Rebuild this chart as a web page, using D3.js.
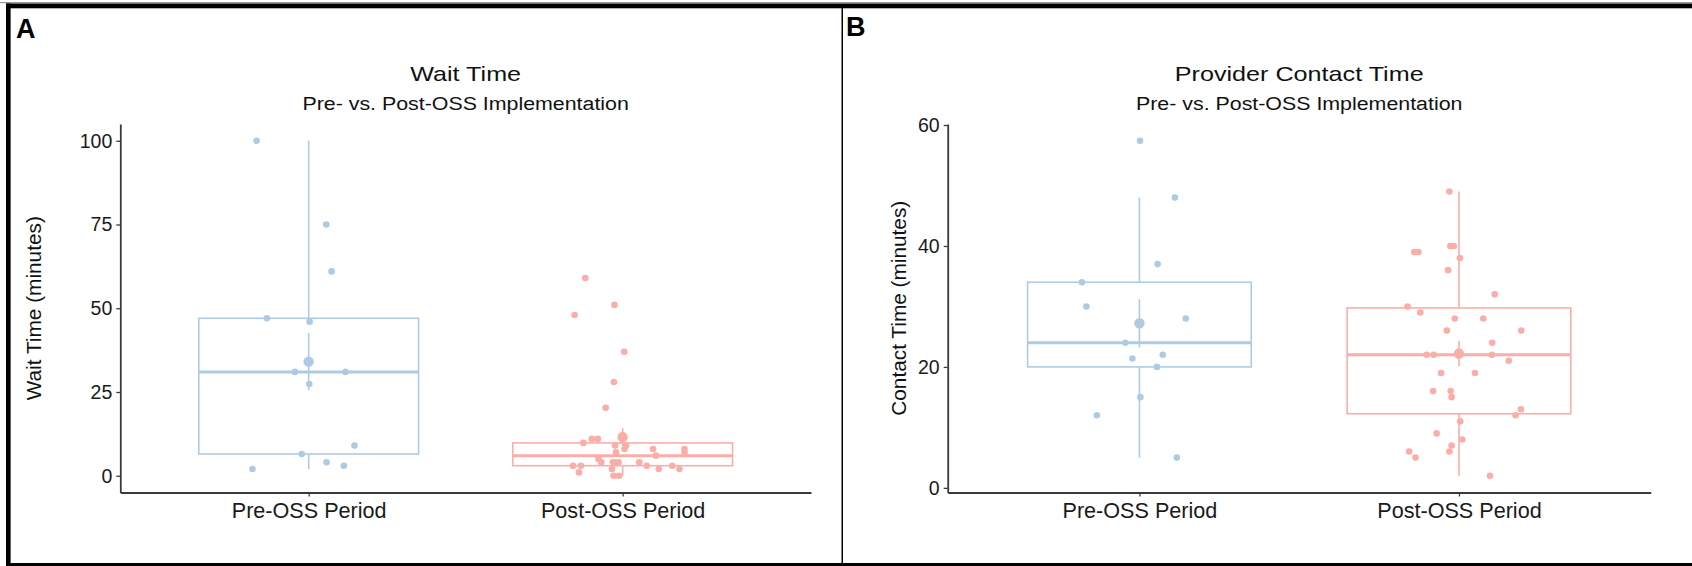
<!DOCTYPE html>
<html>
<head>
<meta charset="utf-8">
<script src="https://cdn.jsdelivr.net/npm/d3@7"></script>
<style>
  body { margin: 0; background: #fff; }
  svg { display: block; }
  text { font-family: "Liberation Sans", Arial, sans-serif; }
</style>
</head>
<body>
<svg id="chart" width="1692" height="566"></svg>
<script>
// categories on the x axis
var categories = ["Pre-OSS Period", "Post-OSS Period"];

// Wait time (minutes)
var waitPre = [100, 75, 61, 47, 46, 31, 31, 27.4, 9, 6.5, 4, 3, 2];
var waitPost = [59, 51, 48, 37, 28, 20.3, 9.8, 11, 11, 9, 9, 8, 8, 8, 7, 7, 6, 5,
                4, 4, 4, 4, 4, 3, 3, 3, 3, 2, 2, 2, 1, 0, 0];

// Provider contact time (minutes)
var contactPre = [57.4, 48, 37, 34, 30, 28, 24, 22, 21.4, 20, 15, 12, 5];
var contactPost = [49, 40, 40, 39, 39, 38, 36, 32, 30, 29, 28, 28, 26, 26, 24, 22, 22, 22,
                   21, 19, 19, 16, 16, 15, 13, 12, 11, 9, 8, 7, 6, 6, 5, 2];

// horizontal jitter of each point, as a share of the category step
var waitPreJitter = [-0.166, 0.056, 0.073, -0.133, 0.003, -0.044, 0.117, 0.002, 0.146, -0.022, 0.057, 0.112, -0.179];
var waitPostJitter = [-0.119, -0.026, -0.153, 0.005, -0.028, -0.054, -0.125, -0.098, -0.079, -0.024, 0.011, 0.006, 0.097,
                      0.197, 0.197, -0.021, 0.106, -0.077, -0.068, -0.031, -0.024, -0.013, 0.053, -0.158, -0.133, 0.077,
                      0.158, 0.115, 0.181, -0.034, -0.139, -0.029, -0.012];
var contactPreJitter = [0.002, 0.111, 0.057, -0.180, -0.166, 0.145, -0.044, 0.073, -0.022, 0.055, 0.003, -0.133, 0.117];
var contactPostJitter = [-0.030, -0.027, -0.016, -0.140, -0.127, 0.003, -0.034, 0.112, -0.161, -0.121, -0.013, 0.076,
                         -0.038, 0.195, 0.104, -0.101, -0.079, 0.103, 0.156, -0.056, 0.050, -0.081, -0.026, -0.023,
                         0.194, 0.177, 0.004, -0.070, 0.010, -0.023, -0.156, -0.030, -0.136, 0.097];

var waitTicks = [0, 25, 50, 75, 100];
var contactTicks = [0, 20, 40, 60];

var colors = ["#aecbe3", "#fbaea7"];

var svg = d3.select("#chart");

// frame around the two panels
svg.append("rect").attr("x", 0).attr("y", 2).attr("width", 1692).attr("height", 1.2).attr("fill", "#999");
svg.append("rect").attr("x", 6).attr("y", 3.5).attr("width", 1686).attr("height", 4.8).attr("fill", "#000");
svg.append("rect").attr("x", 6).attr("y", 3.5).attr("width", 4.6).attr("height", 562.5).attr("fill", "#000");
svg.append("rect").attr("x", 6).attr("y", 563).attr("width", 1686).attr("height", 3).attr("fill", "#000");
svg.append("rect").attr("x", 841.5).attr("y", 6).attr("width", 1.5).attr("height", 558).attr("fill", "#000");

function boxStats(values) {
    var s = values.slice().sort(d3.ascending);
    var q1 = d3.quantile(s, 0.25), med = d3.quantile(s, 0.5), q3 = d3.quantile(s, 0.75);
    var iqr = q3 - q1;
    var lo = d3.min(s.filter(function (v) { return v >= q1 - 1.5 * iqr; }));
    var hi = d3.max(s.filter(function (v) { return v <= q3 + 1.5 * iqr; }));
    var mean = d3.mean(s);
    var se = d3.deviation(s) / Math.sqrt(s.length);
    return {q1: q1, med: med, q3: q3, lo: lo, hi: hi, mean: mean, se: se};
}

function drawPanel(p) {
    var g = svg.append("g");

    var all = d3.merge(p.groups.map(function (d) { return d.values; }));
    var ext = d3.extent(all);
    var pad = (ext[1] - ext[0]) * 0.05;

    var x = d3.scalePoint().domain(categories).range([p.left, p.right]).padding(0.6);
    var y = d3.scaleLinear().domain([ext[0] - pad, ext[1] + pad]).range([p.bottom, p.top]);
    var step = x.step();

    // panel letter
    g.append("text").attr("x", p.labelX).attr("y", p.labelY)
        .attr("font-size", 27).attr("font-weight", "bold").attr("fill", "#000").text(p.label);

    // titles (the figure text is a little stretched sideways)
    var cx = (p.left + p.right) / 2;
    g.append("text").attr("transform", "translate(" + cx + ",81) scale(1.21,1)")
        .attr("text-anchor", "middle").attr("font-size", 20.8).attr("fill", "#111").text(p.title);
    g.append("text").attr("transform", "translate(" + cx + ",110) scale(1.2,1)")
        .attr("text-anchor", "middle").attr("font-size", 17.8).attr("fill", "#111").text(p.subtitle);

    // boxes
    p.groups.forEach(function (grp, i) {
        var st = boxStats(grp.values);
        var c = x(categories[i]);
        var w = step * 0.7;
        var col = colors[i];
        var bg = g.append("g");
        bg.append("line").attr("x1", c).attr("x2", c).attr("y1", y(st.q3)).attr("y2", y(st.hi))
            .attr("stroke", col).attr("stroke-width", 1.6);
        bg.append("line").attr("x1", c).attr("x2", c).attr("y1", y(st.q1)).attr("y2", y(st.lo))
            .attr("stroke", col).attr("stroke-width", 1.6);
        bg.append("rect").attr("x", c - w / 2).attr("y", y(st.q3))
            .attr("width", w).attr("height", y(st.q1) - y(st.q3))
            .attr("fill", "none").attr("stroke", col).attr("stroke-width", 1.6);
        bg.append("line").attr("x1", c - w / 2).attr("x2", c + w / 2).attr("y1", y(st.med)).attr("y2", y(st.med))
            .attr("stroke", col).attr("stroke-width", 3);

        // jittered points
        g.append("g").selectAll("circle").data(grp.values).join("circle")
            .attr("cx", function (d, k) { return c + grp.jitter[k] * step; })
            .attr("cy", function (d) { return y(d); })
            .attr("r", 3.3).attr("fill", col);

        // mean +/- standard error
        g.append("line").attr("x1", c).attr("x2", c)
            .attr("y1", y(st.mean - st.se)).attr("y2", y(st.mean + st.se))
            .attr("stroke", col).attr("stroke-width", 1.6);
        g.append("circle").attr("cx", c).attr("cy", y(st.mean)).attr("r", 5.2).attr("fill", col);
    });

    // axes
    var ya = g.append("g").attr("transform", "translate(" + p.left + ",0)")
        .call(d3.axisLeft(y).tickValues(p.ticks).tickSize(4).tickSizeOuter(0).tickPadding(4));
    var xa = g.append("g").attr("transform", "translate(0," + p.bottom + ")")
        .call(d3.axisBottom(x).tickSize(4).tickSizeOuter(0).tickPadding(6));
    [ya, xa].forEach(function (a) {
        a.select(".domain").attr("stroke", "#3a3a3a").attr("stroke-width", 1.8);
        a.selectAll(".tick line").attr("stroke", "#3a3a3a").attr("stroke-width", 1.3);
        a.selectAll(".tick text").attr("fill", "#1a1a1a").attr("font-family", "Liberation Sans, Arial, sans-serif");
    });
    ya.selectAll(".tick text").attr("font-size", 19.5);
    xa.selectAll(".tick text").attr("font-size", 21.6);

    g.append("text").attr("transform", "translate(" + p.yTitleX + "," + ((p.top + p.bottom) / 2) + ") rotate(-90)")
        .attr("text-anchor", "middle").attr("font-size", 20.8).attr("fill", "#111").text(p.yTitle);
}

drawPanel({
    label: "A", labelX: 16, labelY: 38,
    title: "Wait Time", subtitle: "Pre- vs. Post-OSS Implementation",
    yTitle: "Wait Time (minutes)", yTitleX: 41,
    left: 120.3, right: 811, top: 124, bottom: 492.5,
    ticks: waitTicks,
    groups: [{values: waitPre, jitter: waitPreJitter}, {values: waitPost, jitter: waitPostJitter}]
});

drawPanel({
    label: "B", labelX: 846, labelY: 36,
    title: "Provider Contact Time", subtitle: "Pre- vs. Post-OSS Implementation",
    yTitle: "Contact Time (minutes)", yTitleX: 906,
    left: 947.7, right: 1650.7, top: 124, bottom: 492.5,
    ticks: contactTicks,
    groups: [{values: contactPre, jitter: contactPreJitter}, {values: contactPost, jitter: contactPostJitter}]
});
</script>
</body>
</html>
